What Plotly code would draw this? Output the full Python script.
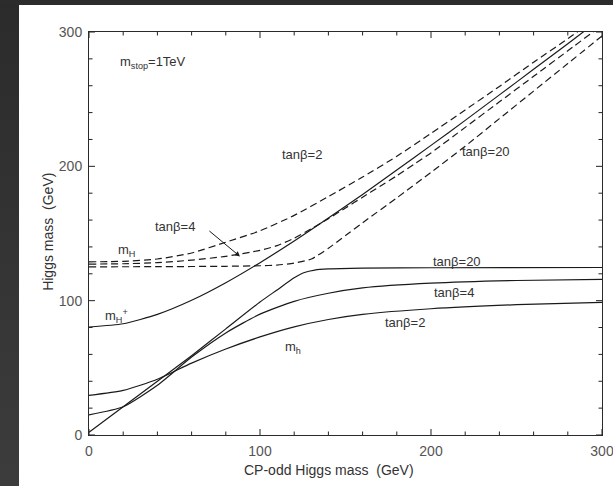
import base64
import plotly.graph_objects as go

# CP-odd Higgs mass m_A (GeV) and the resulting MSSM Higgs masses (GeV), m_stop = 1 TeV

# light CP-even Higgs m_h (solid)
mh_tb2_x = [0, 20, 40, 60, 80, 100, 120, 140, 160, 200, 250, 300]
mh_tb2_y = [29.5, 33.2, 41.5, 53.5, 64, 73, 80.5, 86, 89.8, 94, 97, 98.8]

mh_tb4_x = [0, 20, 40, 60, 80, 100, 120, 140, 160, 200, 250, 300]
mh_tb4_y = [15, 21, 37, 58, 76, 90, 99.5, 105.5, 109.5, 113, 115, 115.8]

mh_tb20_x = [0, 20, 40, 60, 80, 100, 110, 120, 126, 132, 140, 160, 200, 300]
mh_tb20_y = [2, 21, 40, 59, 79, 99, 108, 117, 121, 122.8, 123.6, 124.2, 124.5, 124.7]

# charged Higgs m_H+ (solid)
mhc_x = [0, 20, 40, 60, 80, 100, 120, 140, 160, 180, 200, 220, 240, 260, 280, 300]
mhc_y = [80.4, 82.8, 89.8, 100.3, 113.4, 128.3, 144.4, 161.5, 179.1, 197.3,
         215.6, 234.2, 253.2, 272.2, 291.3, 310.6]

# heavy CP-even Higgs m_H (dashed)
mH_tb2_x = [0, 20, 40, 60, 80, 100, 120, 140, 160, 180, 200, 220, 240, 260, 280, 300]
mH_tb2_y = [128.9, 129.3, 131, 135.5, 143.5, 152, 163.5, 177.5, 192, 207.5,
            224.5, 242, 259.5, 277.5, 295, 313]

mH_tb4_x = [0, 20, 40, 60, 80, 100, 110, 120, 130, 140, 150, 160, 170, 180, 190,
            200, 220, 240, 260, 280, 300]
mH_tb4_y = [127.2, 127.5, 128.3, 130.2, 133, 137.5, 141, 146.5, 153.5, 161, 169,
            177, 185, 193, 201.5, 210, 229, 248, 267, 286, 305]

mH_tb20_x = [0, 40, 80, 100, 110, 120, 130, 140, 150, 160, 180, 200, 220, 240,
             260, 280, 300]
mH_tb20_y = [125.2, 125.3, 125.6, 126, 126.5, 128, 131, 139, 148.5, 158, 176.5,
             195.5, 215, 235.5, 256, 276.5, 297]

# axis tick values (GeV), identical on both axes
major_ticks = [0, 100, 200, 300]
minor_ticks = [20, 40, 60, 80, 120, 140, 160, 180, 220, 240, 260, 280]

LINE = "#1a1a1a"
AXIS = "#222222"
TEXT = "#333333"
FONT = "Liberation Sans, Arial, sans-serif"

fig = go.Figure()

solid = [(mh_tb2_x, mh_tb2_y), (mh_tb4_x, mh_tb4_y), (mh_tb20_x, mh_tb20_y), (mhc_x, mhc_y)]
dashed = [(mH_tb2_x, mH_tb2_y), (mH_tb4_x, mH_tb4_y), (mH_tb20_x, mH_tb20_y)]

for xs, ys in solid:
    fig.add_trace(go.Scatter(x=xs, y=ys, mode="lines", showlegend=False,
                             line=dict(color=LINE, width=1.2, shape="spline", smoothing=0.6)))
for xs, ys in dashed:
    fig.add_trace(go.Scatter(x=xs, y=ys, mode="lines", showlegend=False,
                             line=dict(color=LINE, width=1.2, dash="7px,4px",
                                       shape="spline", smoothing=0.6)))

labels = [
    ("m<sub>stop</sub>=1TeV", 17, 277, "left"),
    ("tanβ=2", 124.5, 208.6, "center"),
    ("tanβ=20", 216.8, 210.9, "left"),
    ("tanβ=4", 50.3, 155, "center"),
    ("m<sub>H</sub>", 15.8, 137.5, "left"),
    ("m<sub>H</sub><sup>+</sup>", 8.2, 88.5, "left"),
    ("tanβ=20", 215, 129.3, "center"),
    ("tanβ=4", 213.3, 105.8, "center"),
    ("tanβ=2", 184.7, 83.5, "center"),
    ("m<sub>h</sub>", 113.4, 65.5, "left"),
]
for txt, x, y, anc in labels:
    fig.add_annotation(x=x, y=y, text=txt, showarrow=False, xanchor=anc, yanchor="middle",
                       font=dict(family=FONT, size=13, color=TEXT))

# arrow pointing from the tanβ=4 label to its m_H curve
fig.add_annotation(x=88.3, y=132.9, ax=69.5, ay=152.8, xref="x", yref="y", axref="x", ayref="y",
                   text="", showarrow=True, arrowhead=2, arrowsize=1, arrowwidth=1,
                   arrowcolor=LINE)

# axis titles
fig.add_annotation(x=0.468, y=-0.087, xref="paper", yref="paper", text="CP-odd Higgs mass  (GeV)",
                   xanchor="center", yanchor="middle", showarrow=False,
                   font=dict(family=FONT, size=14, color=TEXT))
fig.add_annotation(x=-0.08, y=0.504, xref="paper", yref="paper", text="Higgs mass  (GeV)",
                   xanchor="center", yanchor="middle", textangle=-90, showarrow=False,
                   font=dict(family=FONT, size=14, color=TEXT))

# dark slide backdrop (shaded left strip, thin top band) behind a white panel
backdrop_svg = (
    '<svg xmlns="http://www.w3.org/2000/svg" width="613" height="486" viewBox="0 0 613 486">'
    '<defs><linearGradient id="g" x1="0" y1="0" x2="0" y2="1">'
    '<stop offset="0" stop-color="#2b2b2b"/><stop offset="1" stop-color="#3c3c3c"/>'
    '</linearGradient></defs>'
    '<rect x="0" y="0" width="613" height="486" fill="url(#g)"/>'
    '<rect x="0" y="0" width="613" height="5" fill="#2c2c2c"/>'
    '<rect x="19" y="5" width="594" height="481" fill="#ffffff"/>'
    '</svg>'
)
backdrop_src = "data:image/svg+xml;base64," + base64.b64encode(backdrop_svg.encode()).decode()

# inward tick marks on all four sides of the frame (lengths in paper fractions)
PLOT_W, PLOT_H = 513, 403
tick_shapes = []
for vals, px_len in ((major_ticks, 6), (minor_ticks, 3.5)):
    lx = px_len / PLOT_W
    ly = px_len / PLOT_H
    for v in vals:
        for y0, y1 in ((0, ly), (1, 1 - ly)):
            tick_shapes.append(dict(type="line", xref="x", yref="paper", x0=v, x1=v,
                                    y0=y0, y1=y1, line=dict(color=AXIS, width=1),
                                    layer="above"))
        for x0, x1 in ((0, lx), (1, 1 - lx)):
            tick_shapes.append(dict(type="line", xref="paper", yref="y", x0=x0, x1=x1,
                                    y0=v, y1=v, line=dict(color=AXIS, width=1),
                                    layer="above"))

axis_style = dict(
    showgrid=False, zeroline=False, showline=True, linecolor="#2a2a2a",
    mirror=True, range=[0, 300], tickmode="array", tickvals=major_ticks,
    ticks="",
)
label_font = dict(family=FONT, size=14, color="#555555")

fig.update_layout(
    width=613, height=486,
    margin=dict(l=89, r=11, t=32, b=51, autoexpand=False),
    paper_bgcolor="white", plot_bgcolor="white",
    images=[dict(source=backdrop_src, xref="paper", yref="paper",
                 x=-89 / 513, y=435 / 403, sizex=613 / 513, sizey=486 / 403,
                 xanchor="left", yanchor="top", sizing="stretch", layer="below")],
    shapes=tick_shapes,
    xaxis=dict(tickfont=label_font, ticklabelstandoff=3, ticklabeloverflow="allow", **axis_style),
    yaxis=dict(tickfont=label_font, ticklabelstandoff=3, **axis_style),
)

fig.write_html("out.html")
